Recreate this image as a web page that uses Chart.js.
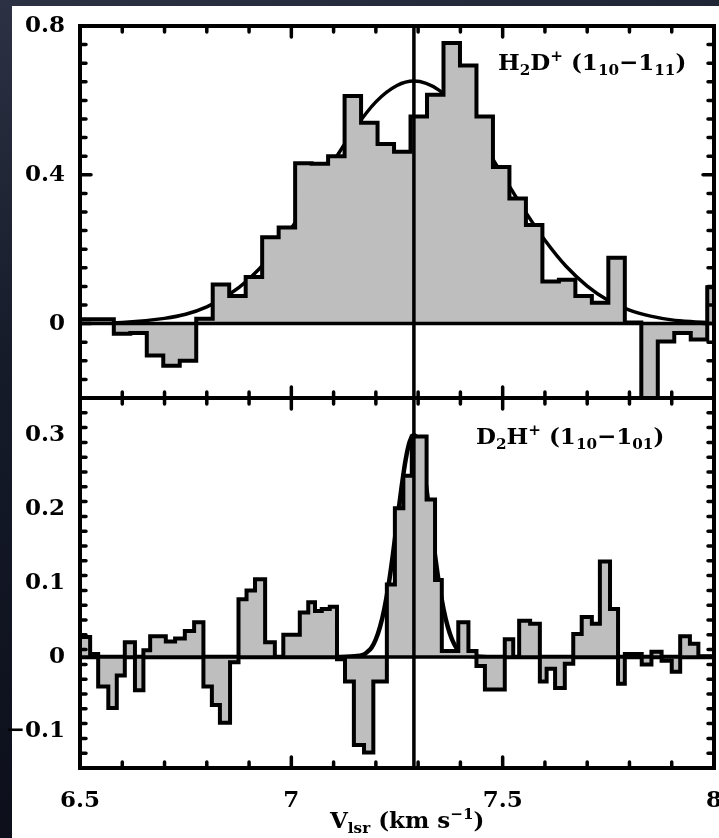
<!DOCTYPE html>
<html>
<head>
<meta charset="utf-8">
<script src="https://cdn.jsdelivr.net/npm/chart.js@4"></script>
<style>
  html, body { margin: 0; padding: 0; }
  body {
    width: 719px; height: 838px; overflow: hidden; position: relative;
    background: linear-gradient(165deg, #2c3244 0%, #161b2a 35%, #080b15 100%);
  }
  #paper { position: absolute; left: 12px; top: 6px; width: 730px; height: 840px; background: #fff; }
  canvas { position: absolute; left: 0; }
  .lbl { position: absolute; font: bold 23px 'DejaVu Serif', serif; color: #000; white-space: nowrap; line-height: 1; }
  .lbl sub, .lbl sup { font-size: 66%; line-height: 0; }
  .lbl sub { vertical-align: -0.35em; }
  .lbl sup { vertical-align: 0.6em; }
</style>
</head>
<body>
<div id="paper"></div>
<canvas id="topChart" width="740" height="414" style="top:0"></canvas>
<canvas id="botChart" width="740" height="456" style="top:382px"></canvas>
<div class="lbl" style="left:498px; top:50px">H<sub>2</sub>D<sup>+</sup> (1<sub>10</sub>−1<sub>11</sub>)</div>
<div class="lbl" style="left:476px; top:424px">D<sub>2</sub>H<sup>+</sup> (1<sub>10</sub>−1<sub>01</sub>)</div>
<div class="lbl" style="left:330px; top:808px">V<sub>lsr</sub> (km s<sup>−1</sup>)</div>
<script>
// velocity axis (km/s) and the line centre marked by the vertical bar
const xTicks = [6.5, 7, 7.5, 8];
const lineCentre = 7.29;

// H2D+ (1_10-1_11): channel left edges (last entry = right edge) and Tmb values
const topEdges = [6.500, 6.541, 6.580, 6.619, 6.658, 6.697, 6.736, 6.775, 6.814, 6.853,
  6.892, 6.931, 6.970, 7.009, 7.048, 7.087, 7.126, 7.165, 7.204, 7.243,
  7.282, 7.321, 7.360, 7.399, 7.438, 7.477, 7.516, 7.555, 7.594, 7.633,
  7.672, 7.711, 7.750, 7.789, 7.828, 7.867, 7.906, 7.945, 7.984, 8.000];
const topValues = [0.012, 0.012, -0.027, -0.025, -0.086, -0.113, -0.100, 0.013, 0.105, 0.074,
  0.125, 0.232, 0.258, 0.431, 0.430, 0.450, 0.612, 0.540, 0.483, 0.462,
  0.557, 0.615, 0.754, 0.694, 0.557, 0.421, 0.336, 0.265, 0.113, 0.118,
  0.074, 0.056, 0.177, 0.003, -0.200, -0.048, -0.025, -0.043, 0.098];
// gaussian fit
const topFitV = [6.5, 6.6, 6.7, 6.75, 6.8, 6.85, 6.9, 6.95, 7.0, 7.05, 7.1, 7.15, 7.2, 7.25, 7.29,
  7.35, 7.4, 7.45, 7.5, 7.55, 7.6, 7.65, 7.7, 7.75, 7.8, 7.85, 7.9, 7.95, 8.0];
const topFitY = [0.001, 0.003, 0.014, 0.025, 0.045, 0.076, 0.120, 0.180, 0.256, 0.343, 0.436, 0.524, 0.596, 0.640, 0.652,
  0.627, 0.570, 0.490, 0.399, 0.307, 0.224, 0.154, 0.101, 0.062, 0.036, 0.020, 0.010, 0.005, 0.002];
const yTopTicks = [0, 0.4, 0.8];

// D2H+ (1_10-1_01)
const botEdges = [6.500, 6.524, 6.543, 6.567, 6.587, 6.606, 6.630, 6.650, 6.666, 6.703,
  6.725, 6.748, 6.770, 6.792, 6.812, 6.831, 6.855, 6.875, 6.894, 6.914,
  6.938, 6.961, 6.981, 7.020, 7.040, 7.056, 7.072, 7.091, 7.108, 7.127,
  7.148, 7.172, 7.194, 7.226, 7.245, 7.265, 7.285, 7.320, 7.340, 7.356,
  7.395, 7.419, 7.438, 7.458, 7.505, 7.525, 7.539, 7.565, 7.588, 7.604,
  7.624, 7.647, 7.667, 7.687, 7.711, 7.730, 7.754, 7.773, 7.789, 7.829,
  7.852, 7.876, 7.900, 7.920, 7.943, 7.963, 8.000];
const botValues = [0.027, 0.004, -0.040, -0.069, -0.025, 0.020, -0.045, 0.009, 0.028, 0.021,
  0.025, 0.035, 0.047, -0.040, -0.065, -0.089, -0.007, 0.078, 0.090, 0.105,
  0.020, 0.000, 0.030, 0.060, 0.074, 0.062, 0.065, 0.068, -0.003, -0.033,
  -0.119, -0.129, -0.033, 0.098, 0.201, 0.245, 0.298, 0.213, 0.104, 0.008,
  0.047, 0.008, -0.012, -0.044, 0.024, 0.000, 0.049, 0.045, -0.033, -0.016,
  -0.042, -0.009, 0.031, 0.054, 0.045, 0.129, 0.065, -0.036, 0.004, -0.010,
  0.007, -0.005, -0.020, 0.028, 0.018, 0.001];
const botFitV = [6.5, 7.0, 7.1, 7.15, 7.17, 7.18, 7.19, 7.2, 7.21, 7.22, 7.23, 7.24, 7.25, 7.26, 7.27, 7.28, 7.29,
  7.3, 7.31, 7.32, 7.33, 7.34, 7.35, 7.36, 7.37, 7.38, 7.39, 7.4, 7.41, 7.43, 7.48, 8.0];
const botFitY = [0, 0, 0, 0.001, 0.003, 0.007, 0.013, 0.024, 0.041, 0.065, 0.097, 0.137, 0.182, 0.226, 0.265, 0.291, 0.300,
  0.291, 0.265, 0.226, 0.182, 0.137, 0.097, 0.065, 0.041, 0.024, 0.013, 0.007, 0.003, 0.001, 0, 0];
const yBotTicks = [-0.1, 0, 0.1, 0.2, 0.3];

const FILL = '#bebebe';
const FONT = { family: 'DejaVu Serif', weight: 'bold', size: 23 };
const fmtTick = v => v === 0 ? '0' : (v < 0 ? '\u2212' + Math.abs(v) : String(v));
const steps = (edges, vals) => edges.map((e, i) => ({ x: e, y: vals[Math.min(i, vals.length - 1)] }));
const pairs = (xs, ys) => xs.map((x, i) => ({ x, y: ys[i] }));

// frame, inward ticks, zero line and line-centre marker
const frame = {
  id: 'frame',
  afterDatasetsDraw(chart, args, o) {
    const { ctx, chartArea: a, scales: { x, y } } = chart;
    const isMajor = (v, list) => list.some(t => Math.abs(t - v) < 1e-6);
    const each = (min, max, step, fn) => {
      const n = Math.round((max - min) / step);
      for (let i = 0; i <= n; i++) fn(+(min + i * step).toFixed(4));
    };
    ctx.save();
    ctx.strokeStyle = '#000';
    ctx.lineCap = 'round';

    ctx.lineWidth = 3.5;
    ctx.beginPath();
    const y0 = y.getPixelForValue(0);
    ctx.moveTo(a.left, y0); ctx.lineTo(a.right, y0);
    const xc = x.getPixelForValue(lineCentre);
    ctx.moveTo(xc, a.top); ctx.lineTo(xc, a.bottom);
    ctx.stroke();

    ctx.beginPath();
    each(x.min, x.max, o.xStep, v => {
      const px = x.getPixelForValue(v);
      const len = isMajor(v, xTicks) ? 11 : 6;
      ctx.moveTo(px, a.top); ctx.lineTo(px, a.top + len);
      ctx.moveTo(px, a.bottom); ctx.lineTo(px, a.bottom - len);
    });
    each(y.min, y.max, o.yStep, v => {
      const py = y.getPixelForValue(v);
      const len = isMajor(v, o.yMajor) ? 11 : 6;
      ctx.moveTo(a.left, py); ctx.lineTo(a.left + len, py);
      ctx.moveTo(a.right, py); ctx.lineTo(a.right - len, py);
    });
    ctx.stroke();

    ctx.lineWidth = 4;
    ctx.lineCap = 'butt';
    ctx.strokeRect(a.left, a.top, a.right - a.left, a.bottom - a.top);
    ctx.restore();
  }
};

function panel(id, cfg) {
  return new Chart(document.getElementById(id), {
    type: 'line',
    data: {
      datasets: [
        { data: steps(cfg.edges, cfg.values), stepped: 'before', borderColor: '#000', borderWidth: 4,
          backgroundColor: FILL, fill: 'origin', pointRadius: 0, borderJoinStyle: 'miter' },
        { data: pairs(cfg.fitV, cfg.fitY), borderColor: '#000', borderWidth: cfg.fitWidth,
          cubicInterpolationMode: 'monotone', pointRadius: 0, fill: false },
      ],
    },
    options: {
      responsive: false,
      animation: false,
      events: [],
      layout: { padding: cfg.padding },
      plugins: {
        legend: { display: false },
        tooltip: { enabled: false },
        frame: { xStep: 0.1, yStep: cfg.yStep, yMajor: cfg.yTicks },
      },
      scales: {
        x: {
          type: 'linear', min: 6.5, max: 8, display: cfg.showX,
          afterFit: s => { if (cfg.showX) s.height = 70; s.paddingLeft = 0; s.paddingRight = 0; },
          afterBuildTicks: s => { s.ticks = xTicks.map(v => ({ value: v })); },
          grid: { display: false, drawTicks: false },
          border: { display: false },
          ticks: { color: '#000', font: FONT, padding: 19, autoSkip: false, maxRotation: 0, callback: v => String(v) },
        },
        y: {
          min: cfg.yMin, max: cfg.yMax,
          afterFit: s => { s.width = 80; s.paddingTop = 0; s.paddingBottom = 0; },
          afterBuildTicks: s => { s.ticks = cfg.yTicks.map(v => ({ value: v })); },
          grid: { display: false, drawTicks: false },
          border: { display: false },
          ticks: { color: '#000', font: FONT, padding: 15, autoSkip: false, callback: fmtTick },
        },
      },
    },
    plugins: [frame],
  });
}

panel('topChart', {
  edges: topEdges, values: topValues, fitV: topFitV, fitY: topFitY, fitWidth: 3.5,
  yMin: -0.2, yMax: 0.8, yStep: 0.05, yTicks: yTopTicks, showX: false,
  padding: { top: 26, right: 26, bottom: 16, left: 0 },
});
panel('botChart', {
  edges: botEdges, values: botValues, fitV: botFitV, fitY: botFitY, fitWidth: 4.5,
  yMin: -0.15, yMax: 0.35, yStep: 0.02, yTicks: yBotTicks, showX: true,
  padding: { top: 16, right: 26, bottom: 0, left: 0 },
});
</script>
</body>
</html>
